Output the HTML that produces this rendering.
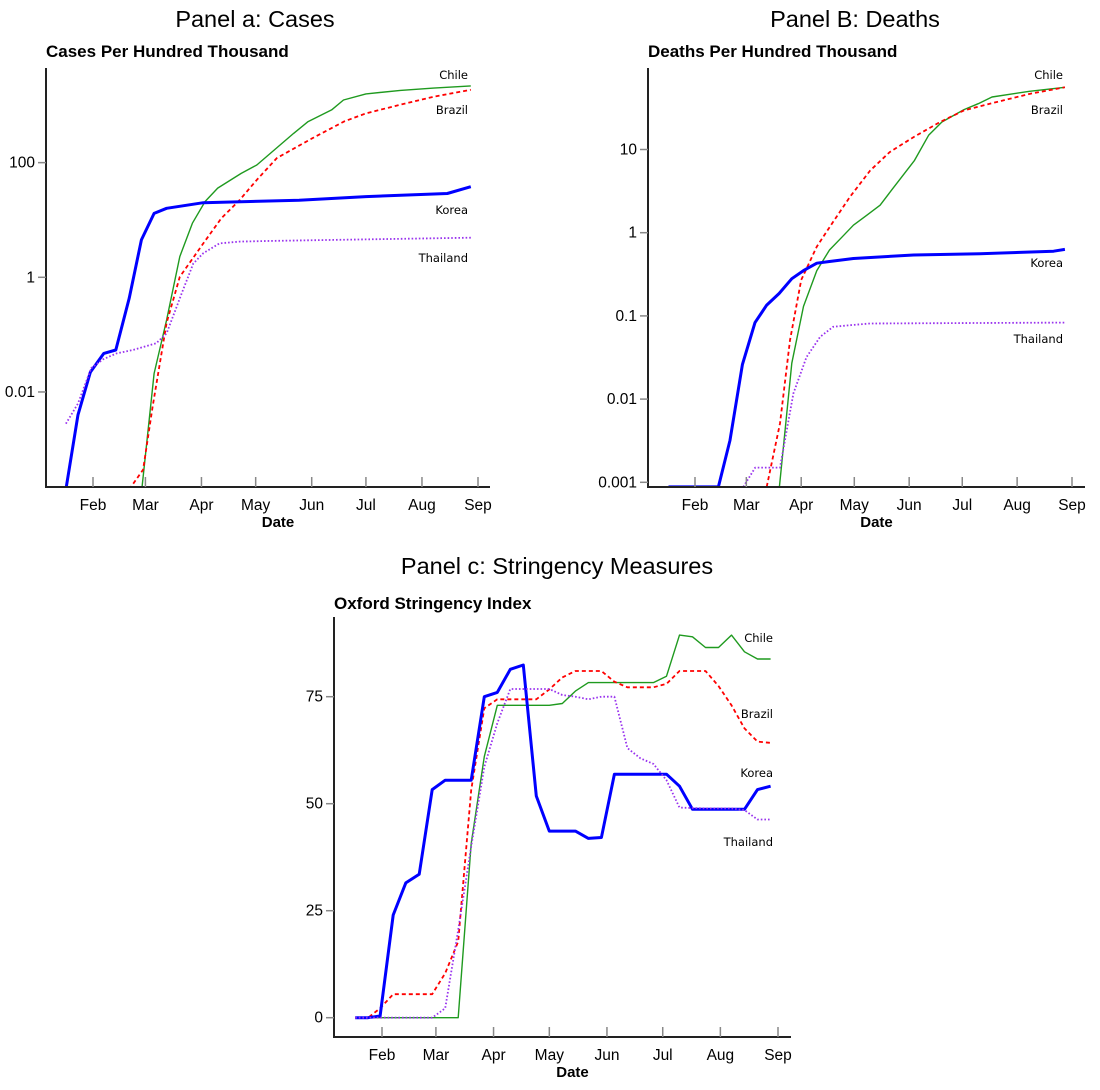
<!DOCTYPE html>
<html><head><meta charset="utf-8">
<style>
html,body{margin:0;padding:0;background:#fff;}
svg{display:block;}
.pt{font-family:"Liberation Sans",sans-serif;font-size:23.5px;fill:#000;}
.st{font-family:"Liberation Sans",sans-serif;font-size:17px;font-weight:bold;fill:#000;}
.tk{font-family:"Liberation Sans",sans-serif;font-size:15.5px;fill:#000;}
.ax{font-family:"Liberation Sans",sans-serif;font-size:15px;font-weight:bold;fill:#000;}
.lb{font-family:"DejaVu Sans",sans-serif;font-size:11.5px;fill:#000;}
</style></head>
<body>
<svg id="root" width="1100" height="1090" viewBox="0 0 1100 1090" xmlns="http://www.w3.org/2000/svg">
<text class="pt" x="255" y="27" text-anchor="middle">Panel a: Cases</text>
<text class="pt" x="855" y="27" text-anchor="middle">Panel B: Deaths</text>
<text class="pt" x="557" y="574" text-anchor="middle">Panel c: Stringency Measures</text>
<text class="st" x="46" y="57">Cases Per Hundred Thousand</text>
<text class="st" x="648" y="57">Deaths Per Hundred Thousand</text>
<text class="st" x="334" y="609">Oxford Stringency Index</text>
</svg>
<script>
// Shared month ticks (day-of-year 2020, Jan 1 = 0)
const monthLabels = ["Feb","Mar","Apr","May","Jun","Jul","Aug","Sep"];
const monthDays = [31,60,91,121,152,182,213,244];

// Panel a: cases per 100k (log)
const casesTicks = [0.01,1,100];
const casesTickLabels = ["0.01","1","100"];
const casesKoreaDays = [16,22.7,29.5,37,43.6,51,57.8,64.8,71.7,92,145,182,227,240];
const casesKorea = [0.0002,0.004,0.022,0.047,0.054,0.43,4.5,13,16,20,22,25.6,29,38];
const casesChileDays = [58,64.8,71.7,79,86,93,100,113,121.6,142,150,163,169.6,182,201,219.5,240];
const casesChile = [0.0002,0.021,0.18,2.3,8.8,21,36,65,91,324,520,830,1240,1580,1820,2000,2180];
const casesBrazilDays = [51,58.7,64,71.7,79,92,102,112,121.6,132.7,152,170,182,201,219.5,240];
const casesBrazil = [0.0002,0.00044,0.0055,0.16,1.02,3.9,10.7,22,50,120,263,525,724,1023,1413,1862];
const casesThaiDays = [16,22.7,30,36.5,44,53,66,71.7,80,86.5,92,101,112,127,164,240];
const casesThai = [0.0028,0.0063,0.026,0.037,0.047,0.054,0.071,0.105,0.52,1.74,2.63,3.9,4.2,4.3,4.5,4.9];

// Panel b: deaths per 100k (log)
const deathsTicks = [0.001,0.01,0.1,1,10];
const deathsTickLabels = ["0.001","0.01","0.1","1","10"];
const deathsKoreaDays = [16,44.2,50.8,57.8,64.9,71.5,78.5,85.7,92.3,99.8,106.4,120.5,154.5,192,233.6,240];
const deathsKorea = [0.00088,0.00088,0.0032,0.026,0.083,0.135,0.186,0.28,0.35,0.43,0.45,0.49,0.54,0.56,0.60,0.63];
const deathsChileDays = [78.7,85.7,92.3,99.8,107,115,120.5,128,135.6,142,155,163,170.5,183,191,198.8,220,240];
const deathsChile = [0.00088,0.027,0.13,0.35,0.62,0.93,1.23,1.62,2.14,3.24,7.4,14.8,21.4,30.2,35.5,42.7,50,56];
const deathsBrazilDays = [71.5,79,84.7,91,99.8,109,118.6,130,141,154.5,169.5,183,201.5,220.5,240];
const deathsBrazil = [0.00088,0.0051,0.051,0.27,0.68,1.35,2.7,5.6,9.3,14.1,21.4,29.5,37.2,46.8,56];
const deathsThaiDays = [58.3,65,79,86.6,94,101.7,109,120.5,130,240];
const deathsThai = [0.00088,0.0015,0.0015,0.0117,0.032,0.056,0.074,0.078,0.081,0.083];

// Panel c: stringency index (linear)
const strTicks = [0,25,50,75];
const strTickLabels = ["0","25","50","75"];
const strKoreaDays = [16.6,23.5,30,37,43.8,51,58,65,79,86,93,100,107,114,121,135,142,149,156,184,191,198,226,233,240];
const strKorea = [0,0,0.4,24,31.5,33.5,53.3,55.5,55.5,75,76,81.4,82.4,51.8,43.6,43.6,41.9,42.1,56.9,56.9,54.1,48.7,48.7,53.3,54.1];
const strChileDays = [16.6,72,79,86,93,121,128,135,142,177,184,191,198,205,212,219,226,233,240];
const strChile = [0,0,40.7,61,73,73,73.4,76.3,78.3,78.3,79.8,89.4,89,86.5,86.5,89.4,85.5,83.8,83.8];
const strBrazilDays = [16.6,23.5,30,37,58,65,72,79,86,93,114,121,128,135,149,156,163,177,184,191,205,212,219,226,233,240];
const strBrazil = [0,0,2.2,5.5,5.5,10.4,17.8,53.2,72.3,74.4,74.4,76.7,79.5,81,81,78.5,77.2,77.2,78,81,81,77.5,73,67.6,64.5,64.2];
const strThaiDays = [16.6,58,65,72,79,86,93,100,121,128,135,142,149,156,163,170,177,184,191,205,219,226,233,240];
const strThai = [0,0,2.2,20.5,40,58.6,68.8,76.8,76.8,75.4,75,74.4,75,75,63,60.6,59.3,55.5,49.1,48.9,48.9,48.5,46.3,46.3];

const NS = "http://www.w3.org/2000/svg";
const root = document.getElementById('root');
function mk(tag, attrs, parent){
  const e = document.createElementNS(NS, tag);
  for (const k in attrs) e.setAttribute(k, attrs[k]);
  (parent||root).appendChild(e);
  return e;
}
const STYLES = {
  korea:{stroke:"#0000ff",w:3,dash:null},
  chile:{stroke:"#1f9a1f",w:1.4,dash:null},
  brazil:{stroke:"#ff0000",w:1.8,dash:"4 3"},
  thailand:{stroke:"#9933ee",w:1.8,dash:"1.6 2"}
};

function panel(cfg){
  const g = mk('g', {});
  
  
  const xs = d => cfg.x0 + (d - 31) * (cfg.x1 - cfg.x0) / (244 - 31);
  const ys = cfg.ys;
  const cid = cfg.name + '-clip';
  const defs = mk('defs', {}, g);
  const cp = mk('clipPath', {id: cid}, defs);
  mk('rect', {x: cfg.left, y: cfg.top, width: cfg.right - cfg.left, height: cfg.bottom - cfg.top + 1}, cp);
  cfg.series.forEach(s => {
    const st = STYLES[s.key];
    const d = s.days.map((dd, i) => (i ? 'L' : 'M') + xs(dd).toFixed(1) + ' ' + ys(s.vals[i]).toFixed(1)).join(' ');
    const p = mk('path', {d: d, fill: 'none', stroke: st.stroke, 'stroke-width': st.w, 'stroke-linejoin': 'round', 'clip-path': 'url(#' + cid + ')'}, g);
    if (st.dash) p.setAttribute('stroke-dasharray', st.dash);
    
    
    const t = mk('text', {x: cfg.labelX, y: s.ly, 'text-anchor': 'end', class: 'lb'}, g);
    t.textContent = s.label;
    
    
  });
  const ya = mk('line', {x1: cfg.left, y1: cfg.top, x2: cfg.left, y2: cfg.bottom + 1, stroke: '#222', 'stroke-width': 2}, g);
  
  
  const xa = mk('line', {x1: cfg.left - 1, y1: cfg.bottom, x2: cfg.right, y2: cfg.bottom, stroke: '#222', 'stroke-width': 2}, g);
  
  
  monthDays.forEach((md, i) => {
    const x = xs(md);
    mk('line', {x1: x, y1: cfg.bottom - 10, x2: x, y2: cfg.bottom, stroke: '#888', 'stroke-width': 1.5}, g);
    const t = mk('text', {x: x, y: cfg.bottom + 23, 'text-anchor': 'middle', class: 'tk'}, g);
    t.textContent = monthLabels[i];
    
    
  });
  cfg.ticks.forEach((v, i) => {
    const y = ys(v);
    mk('line', {x1: cfg.left - 8, y1: y, x2: cfg.left, y2: y, stroke: '#888', 'stroke-width': 1.5}, g);
    const t = mk('text', {x: cfg.left - 11, y: y + 5, 'text-anchor': 'end', class: 'tk'}, g);
    t.textContent = cfg.tickLabels[i];
    
    
  });
  const xt = mk('text', {x: (cfg.left + cfg.right) / 2 + 10, y: cfg.bottom + 40, 'text-anchor': 'middle', class: 'ax'}, g);
  xt.textContent = 'Date';
  
  
}

const logA = v => 277.3 - Math.log10(v) * 57.33;
panel({name:'cases-chart', left:46, right:490, top:68, bottom:487, x0:93, x1:478, ys:logA,
  ticks:casesTicks, tickLabels:casesTickLabels, labelX:468,
  series:[
    {key:'chile', label:'Chile', days:casesChileDays, vals:casesChile, ly:79},
    {key:'brazil', label:'Brazil', days:casesBrazilDays, vals:casesBrazil, ly:114},
    {key:'korea', label:'Korea', days:casesKoreaDays, vals:casesKorea, ly:214},
    {key:'thailand', label:'Thailand', days:casesThaiDays, vals:casesThai, ly:262}
  ]});
const logB = v => 232.7 - Math.log10(v) * 83.2;
panel({name:'deaths-chart', left:648, right:1085, top:68, bottom:487, x0:695, x1:1072, ys:logB,
  ticks:deathsTicks, tickLabels:deathsTickLabels, labelX:1063,
  series:[
    {key:'chile', label:'Chile', days:deathsChileDays, vals:deathsChile, ly:79},
    {key:'brazil', label:'Brazil', days:deathsBrazilDays, vals:deathsBrazil, ly:114},
    {key:'korea', label:'Korea', days:deathsKoreaDays, vals:deathsKorea, ly:267},
    {key:'thailand', label:'Thailand', days:deathsThaiDays, vals:deathsThai, ly:343}
  ]});
const linC = v => 1017.7 - v * (1017.7 - 696.7) / 75;
panel({name:'stringency-chart', left:334, right:791, top:617, bottom:1037, x0:382, x1:778, ys:linC,
  ticks:strTicks, tickLabels:strTickLabels, labelX:773,
  series:[
    {key:'chile', label:'Chile', days:strChileDays, vals:strChile, ly:642},
    {key:'brazil', label:'Brazil', days:strBrazilDays, vals:strBrazil, ly:718},
    {key:'korea', label:'Korea', days:strKoreaDays, vals:strKorea, ly:777},
    {key:'thailand', label:'Thailand', days:strThaiDays, vals:strThai, ly:846}
  ]});
</script>
</body></html>
